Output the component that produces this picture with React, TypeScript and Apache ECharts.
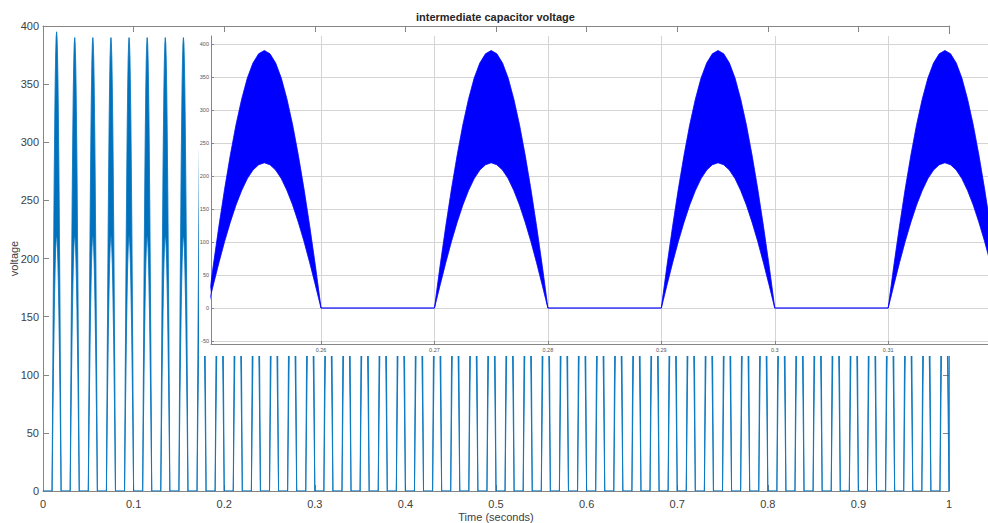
import { useEffect, useRef } from "react";
import * as echarts from "echarts";

// One conduction hump of the intermediate capacitor voltage, sampled every 0.5 ms.
const humpOffsets = [
  0, 0.0005, 0.001, 0.0015, 0.002, 0.0025, 0.003, 0.0035, 0.004, 0.0045, 0.005,
  0.0055, 0.006, 0.0065, 0.007, 0.0075, 0.008, 0.0085, 0.009, 0.0095, 0.01,
];
// Upper and lower envelope of the switching ripple (V)
const upperHump = [
  0, 64, 124, 180, 231, 277, 316, 348, 371, 385, 390,
  385, 371, 348, 316, 277, 231, 180, 124, 64, 0,
];
const lowerHump = [
  0, 35, 69, 101, 130, 156, 178, 196, 209, 217, 220,
  217, 209, 196, 178, 156, 130, 101, 69, 35, 0,
];

// Start time of every conduction hump (s) and its peak voltage (V)
const cycleStarts = [
  0.01, 0.03, 0.05, 0.07, 0.09, 0.11, 0.13, 0.15, 0.17, 0.19,
  0.21, 0.23, 0.25, 0.27, 0.29, 0.31, 0.33, 0.35, 0.37, 0.39,
  0.41, 0.43, 0.45, 0.47, 0.49, 0.51, 0.53, 0.55, 0.57, 0.59,
  0.61, 0.63, 0.65, 0.67, 0.69, 0.71, 0.73, 0.75, 0.77, 0.79,
  0.81, 0.83, 0.85, 0.87, 0.89, 0.91, 0.93, 0.95, 0.97, 0.99,
];
const cyclePeaks = [
  395, 390, 390, 390, 390, 390, 390, 390, 390, 390,
  390, 390, 390, 390, 390, 390, 390, 390, 390, 390,
  390, 390, 390, 390, 390, 390, 390, 390, 390, 390,
  390, 390, 390, 390, 390, 390, 390, 390, 390, 390,
  390, 390, 390, 390, 390, 390, 390, 390, 390, 390,
];

// Axis ticks
const mainYTicks = [0, 50, 100, 150, 200, 250, 300, 350, 400];
const insetXTicks = [0.26, 0.27, 0.28, 0.29, 0.3, 0.31];
const insetYTicks = [-50, 0, 50, 100, 150, 200, 250, 300, 350, 400];

const FONT = "'Liberation Sans', Arial, Helvetica, sans-serif";
const AXIS_GRAY = "#858585";
const LABEL_GRAY = "#404040";

type Pt = [number, number];

// Upper / lower envelope of one hump as [time, volts] points
function humpPoints(k: number): { up: Pt[]; low: Pt[] } {
  const ref = Math.max(...upperHump);
  const up: Pt[] = [];
  const low: Pt[] = [];
  humpOffsets.forEach((dt, i) => {
    const t = Math.round((cycleStarts[k] + dt) * 1e6) / 1e6;
    up.push([t, (upperHump[i] * cyclePeaks[k]) / ref]);
    low.push([t, lowerHump[i]]);
  });
  return { up, low };
}

// Full traces over the whole run, including the zero-voltage gaps
function buildTraces() {
  const upper: Pt[] = [[0, 0]];
  const lower: Pt[] = [[0, 0]];
  cycleStarts.forEach((_, k) => {
    const { up, low } = humpPoints(k);
    upper.push(...up);
    lower.push(...low);
  });
  return { upper, lower };
}

function makeSeries(xi: number, yi: number, color: string, width: number, z: number) {
  const { upper, lower } = buildTraces();
  const lineBase = {
    type: "line",
    xAxisIndex: xi,
    yAxisIndex: yi,
    showSymbol: false,
    symbol: "none",
    clip: true,
    z,
    silent: true,
    lineStyle: { color, width },
  };
  return [
    {
      type: "custom",
      xAxisIndex: xi,
      yAxisIndex: yi,
      clip: true,
      z,
      silent: true,
      data: cycleStarts.map((s, k) => [s, k]),
      encode: { x: 0 },
      renderItem: (_params: any, api: any) => {
        const k = api.value(1);
        const { up, low } = humpPoints(k);
        const pts = up.concat(low.slice().reverse()).map((p) => api.coord(p));
        return {
          type: "polygon",
          shape: { points: pts },
          style: { fill: color, stroke: color, lineWidth: 0.3 },
        };
      },
    },
    { ...lineBase, data: lower },
    { ...lineBase, data: upper },
  ];
}

function buildOption() {
  const mainColor = "#0072BD";
  const insetColor = "#0000FF";

  const mainTick = { inside: true, length: 6, lineStyle: { color: AXIS_GRAY } };
  const mainLine = { show: true, onZero: false, lineStyle: { color: AXIS_GRAY, width: 1 } };

  return {
    animation: false,
    backgroundColor: "#ffffff",
    textStyle: { fontFamily: FONT },
    title: {
      text: "intermediate capacitor voltage",
      left: 416,
      top: 11,
      padding: 0,
      textStyle: { fontSize: 11, fontWeight: "bold", color: "#262626", fontFamily: FONT },
    },
    grid: [
      { left: 43, top: 26, width: 906, height: 465, show: false, containLabel: false, outerBoundsMode: "none" },
      { left: 211, top: 36, width: 777, height: 308, show: false, containLabel: false, outerBoundsMode: "none" },
    ],
    xAxis: [
      {
        gridIndex: 0,
        type: "value",
        position: "bottom",
        min: 0,
        max: 1,
        interval: 0.1,
        axisLine: mainLine,
        axisTick: mainTick,
        axisLabel: { fontSize: 11, color: LABEL_GRAY, margin: 7, fontFamily: FONT },
        splitLine: { show: false },
        name: "Time (seconds)",
        nameLocation: "middle",
        nameGap: 20,
        nameMoveOverlap: false,
        nameTextStyle: { fontSize: 11, color: LABEL_GRAY, fontFamily: FONT },
      },
      {
        gridIndex: 0,
        type: "value",
        position: "top",
        min: 0,
        max: 1,
        interval: 0.1,
        axisLine: mainLine,
        axisTick: mainTick,
        axisLabel: { show: false },
        splitLine: { show: false },
      },
      {
        gridIndex: 1,
        type: "value",
        position: "bottom",
        min: 0.2503,
        max: 0.3188,
        z: 4,
        axisLine: { show: true, onZero: false, lineStyle: { color: AXIS_GRAY, width: 1 } },
        axisTick: { show: true, inside: true, length: 3, customValues: insetXTicks, lineStyle: { color: AXIS_GRAY } },
        axisLabel: { customValues: insetXTicks, fontSize: 5.5, color: "#555", margin: 3, fontFamily: FONT },
        splitLine: { show: true, lineStyle: { color: "#d4d4d4", width: 1 } },
      },
    ],
    yAxis: [
      {
        gridIndex: 0,
        type: "value",
        position: "left",
        min: mainYTicks[0],
        max: mainYTicks[mainYTicks.length - 1],
        interval: 50,
        axisLine: mainLine,
        axisTick: mainTick,
        axisLabel: { fontSize: 11, color: LABEL_GRAY, margin: 4, fontFamily: FONT },
        splitLine: { show: false },
        name: "voltage",
        nameLocation: "middle",
        nameRotate: 90,
        nameGap: 24,
        nameMoveOverlap: false,
        nameTextStyle: { fontSize: 11, color: LABEL_GRAY, fontFamily: FONT },
      },
      {
        gridIndex: 0,
        type: "value",
        position: "right",
        min: mainYTicks[0],
        max: mainYTicks[mainYTicks.length - 1],
        interval: 50,
        axisLine: mainLine,
        axisTick: mainTick,
        axisLabel: { show: false },
        splitLine: { show: false },
      },
      {
        gridIndex: 1,
        type: "value",
        position: "left",
        min: -54.5,
        max: 412,
        z: 4,
        axisLine: { show: true, onZero: false, lineStyle: { color: AXIS_GRAY, width: 1 } },
        axisTick: { show: true, inside: true, length: 3, customValues: insetYTicks, lineStyle: { color: AXIS_GRAY } },
        axisLabel: { customValues: insetYTicks, fontSize: 5.5, color: "#555", margin: 2, fontFamily: FONT },
        splitLine: { show: true, lineStyle: { color: "#d4d4d4", width: 1 } },
      },
    ],
    graphic: [
      {
        type: "rect",
        z: 3,
        silent: true,
        shape: { x: 199, y: 34, width: 789, height: 322 },
        style: { fill: "#ffffff" },
      },
    ],
    series: [
      ...makeSeries(0, 0, mainColor, 0.7, 2),
      ...makeSeries(2, 2, insetColor, 0.7, 5),
    ],
  };
}

export default function App() {
  const ref = useRef<HTMLDivElement>(null);
  useEffect(() => {
    if (!ref.current) return;
    const chart = echarts.init(ref.current, null, { renderer: "svg" });
    chart.setOption(buildOption() as any);
    return () => chart.dispose();
  }, []);
  return (
    <div
      ref={ref}
      style={{ position: "fixed", left: 0, top: 0, width: 988, height: 523, background: "#ffffff" }}
    />
  );
}
